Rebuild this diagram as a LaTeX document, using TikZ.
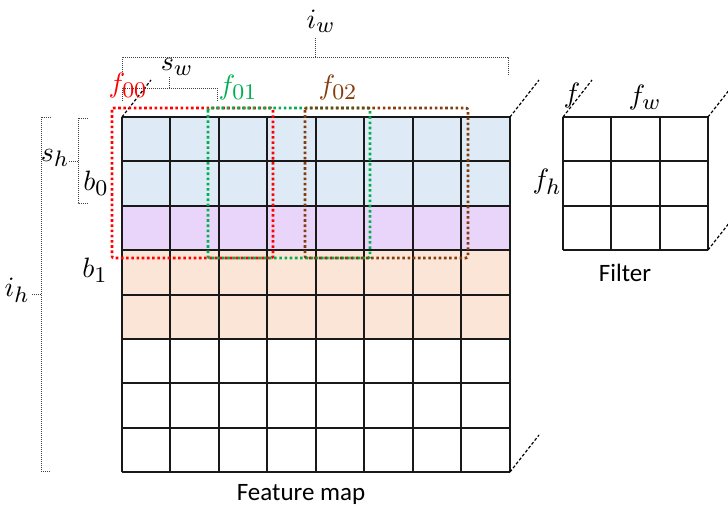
\documentclass[tikz,border=0pt]{standalone}
\usepackage{fontspec}
\newfontfamily\calfont{Carlito}
\DeclareMathSizes{10}{10}{8}{6}
\definecolor{cblue}{HTML}{DEEBF7}
\definecolor{cpurple}{HTML}{EAD5FA}
\definecolor{cpeach}{HTML}{FBE5D6}
\definecolor{cred}{HTML}{FF0000}
\definecolor{cgreen}{HTML}{00B050}
\definecolor{cbrown}{HTML}{843C0C}
\tikzset{
  gridline/.style={line width=2pt, black!90},
  dimline/.style={draw=black!75, line width=0.8pt, dash pattern=on 1pt off 1pt},
  depthline/.style={draw=black, line width=1.2pt, dash pattern=on 3pt off 2pt},
  winbox/.style={line width=2.6pt, dash pattern=on 2.6pt off 2.6pt, rounded corners=2pt},
  mathlbl/.style={font=\normalsize, scale=2.8, inner sep=0pt},
  textlbl/.style={font=\calfont\fontsize{25}{30}\selectfont, inner sep=0pt}
}
\begin{document}
\begin{tikzpicture}[x=1pt,y=-1pt]
\clip (0,0) rectangle (728,508);
\useasboundingbox (0,0) rectangle (728,508);
% fills
\fill[cblue] (122,117) rectangle (510,206);
\fill[cpurple] (122,206) rectangle (510,250);
\fill[cpeach] (122,250) rectangle (510,339);
% feature map grid
\foreach \x in {122,170,219,267,316,364,413,461,510}
  \draw[gridline] (\x,117) -- (\x,472);
\foreach \y in {117,161,206,250,295,339,383,428,472}
  \draw[gridline] (122,\y) -- (510,\y);
% filter grid
\foreach \x in {563,611,660,708}
  \draw[gridline] (\x,117) -- (\x,250);
\foreach \y in {117,161,206,250}
  \draw[gridline] (563,\y) -- (708,\y);
% depth lines
\coordinate (fmTL) at (122,117); \coordinate (fmTLd) at (151,80);
\coordinate (fmTR) at (510,117); \coordinate (fmTRd) at (539,80);
\coordinate (fmBR) at (510,472); \coordinate (fmBRd) at (539,435);
\coordinate (fiTL) at (563,117); \coordinate (fiTLd) at (592,80);
\coordinate (fiTR) at (708,117); \coordinate (fiTRd) at (737,80);
\coordinate (fiBR) at (708,250); \coordinate (fiBRd) at (737,213);
\draw[depthline] (fmTL) -- (fmTLd);
\draw[depthline] (fmTR) -- (fmTRd);
\draw[depthline] (fmBR) -- (fmBRd);
\draw[depthline] (fiTL) -- (fiTLd);
\draw[depthline] (fiTR) -- (fiTRd);
\draw[depthline] (fiBR) -- (fiBRd);
% windows
\draw[winbox, cred] (112,108) rectangle (273,258);
\draw[winbox, cgreen] (208,108) rectangle (370,258);
\draw[winbox, cbrown] (305,108) rectangle (468,258);
% dimension brackets
\draw[dimline] (122,76) -- (122,57) -- (508,57) -- (508,76);
\draw[dimline] (315,57) -- (315,38);
\draw[dimline] (122,101) -- (122,88) -- (217,88) -- (217,101);
\draw[dimline] (169,88) -- (169,77);
\draw[dimline] (88,118) -- (78,118) -- (78,203) -- (88,203);
\draw[dimline] (78,161) -- (68,161);
\draw[dimline] (51,117) -- (41,117) -- (41,471) -- (51,471);
\draw[dimline] (41,294) -- (32,294);
% labels
\node[mathlbl] (iw) at (321,21) {$i_w$};
\node[mathlbl] (sw) at (177,67) {$s_w$};
\node[mathlbl, text=cred] (f00) at (128,86) {$f_{00}$};
\node[mathlbl, text=cgreen] (f01) at (238,88) {$f_{01}$};
\node[mathlbl, text=cbrown] (f02) at (338,88) {$f_{02}$};
\node[mathlbl] (sh) at (55,158) {$s_h$};
\node[mathlbl] (b0) at (96,183) {$b_0$};
\node[mathlbl] (b1) at (95,270) {$b_1$};
\node[mathlbl] (ih) at (17,290) {$i_h$};
\node[mathlbl] (fd) at (572,96) {$f$};
\node[mathlbl] (fw) at (645,98) {$f_w$};
\node[mathlbl] (fh) at (547,182) {$f_h$};
\node[textlbl] (filt) at (625,273) {Filter};
\node[textlbl] (fmap) at (301,494) {Feature map};
\end{tikzpicture}
\end{document}
